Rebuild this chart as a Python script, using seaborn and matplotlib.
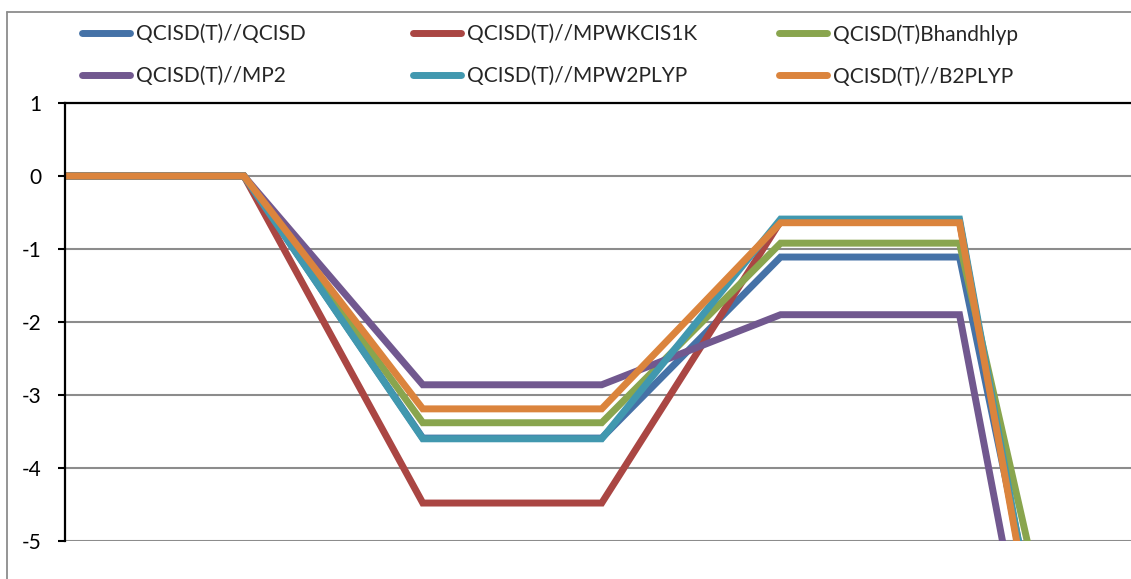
import matplotlib
matplotlib.use("Agg")
import matplotlib.pyplot as plt
import seaborn as sns
import pandas as pd
from matplotlib.lines import Line2D

# ---- data ----
steps = [0, 1, 2, 3, 4, 5, 6]
methods = ["QCISD(T)//QCISD", "QCISD(T)//MPWKCIS1K", "QCISD(T)Bhandhlyp",
           "QCISD(T)//MP2", "QCISD(T)//MPW2PLYP", "QCISD(T)//B2PLYP"]
qcisd = [0, 0, -3.59, -3.59, -1.11, -1.11, -12.9]
mpwkcis1k = [0, 0, -4.48, -4.48, -0.62, -0.62, -14.2]
bhandhlyp = [0, 0, -3.38, -3.38, -0.92, -0.92, -11.7]
mp2 = [0, 0, -2.86, -2.86, -1.90, -1.90, -14.8]
mpw2plyp = [0, 0, -3.60, -3.60, -0.59, -0.59, -14.0]
b2plyp = [0, 0, -3.19, -3.19, -0.64, -0.64, -14.3]
yticks = [-5, -4, -3, -2, -1, 0, 1]
colors = ["#4572A7", "#AA4643", "#89A54E", "#71588F", "#4198AF", "#DB843D"]

series = [qcisd, mpwkcis1k, bhandhlyp, mp2, mpw2plyp, b2plyp]
rows = []
for m, vals in zip(methods, series):
    for s, v in zip(steps, vals):
        rows.append({"step": s, "value": v, "method": m})
df = pd.DataFrame(rows)

sns.set_theme(style="white")
plt.rcParams["font.family"] = ["Lato", "DejaVu Sans"]

W, H = 1131, 579
fig = plt.figure(figsize=(W / 100, H / 100), dpi=100)
left = 65 / W
bottom = (H - 541) / H
top = 1 - 103 / H
ax = fig.add_axes([left, bottom, 1 - left, top - bottom])

sns.lineplot(data=df, x="step", y="value", hue="method", hue_order=methods,
             palette=colors, linewidth=5, sort=False, legend=False, ax=ax,
             solid_joinstyle="miter", solid_capstyle="butt")

ax.set_xlim(0, (W - 65) / 178.9)
ax.set_ylim(-5, 1)
ax.set_yticks(yticks)
ax.set_yticklabels([str(t) for t in yticks], fontsize=15)
ax.set_xticks([])
ax.set_xlabel("")
ax.set_ylabel("")
ax.yaxis.grid(True, color="#8c8c8c", linewidth=1.5)
ax.set_axisbelow(True)
ax.tick_params(axis="y", which="major", left=True, length=5, width=1.5,
               color="black", pad=12, labelcolor="black")
for side in ["right", "bottom"]:
    ax.spines[side].set_visible(False)
ax.spines["left"].set_color("black")
ax.spines["left"].set_linewidth(1.6)
ax.spines["top"].set_color("black")
ax.spines["top"].set_linewidth(1.6)

# outer chart frame
fx = 7 / W
fy = 1 - 12 / H
fig.add_artist(Line2D([fx, fx], [0, fy], color="#8c8c8c", linewidth=1.3, transform=fig.transFigure))
fig.add_artist(Line2D([fx, 1], [fy, fy], color="#8c8c8c", linewidth=1.3, transform=fig.transFigure))

# legend: three columns placed individually
col_x = [82, 413, 779]
for c in range(3):
    idx = [c, c + 3]
    handles = [Line2D([], [], color=colors[i], linewidth=5, solid_capstyle="round") for i in idx]
    labels = [methods[i] for i in idx]
    leg = fig.legend(handles, labels, loc="upper left",
                     bbox_to_anchor=(col_x[c] / W, 1 - 24 / H),
                     frameon=False, fontsize=15, handlelength=2.3,
                     handletextpad=0.3, labelspacing=1.06, borderpad=0,
                     borderaxespad=0)

fig.savefig("out.png", dpi=100)
